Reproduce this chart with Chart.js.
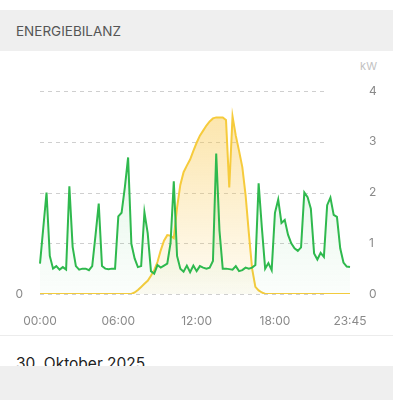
<!DOCTYPE html>
<html>
<head>
<meta charset="utf-8">
<script src="https://cdn.jsdelivr.net/npm/chart.js@4.4.0/dist/chart.umd.min.js"></script>
<style>
  body { margin: 0; width: 393px; height: 400px; background: #fff; font-family: Inter, "Noto Sans", sans-serif; overflow: hidden; position: relative; }
  .header { position: absolute; top: 10px; left: 0; width: 393px; height: 41px; background: #efefef; }
  .header span { position: absolute; left: 16px; top: 13px; font-size: 13.5px; color: #555; }
  .chart-box { position: absolute; top: 51px; left: 0; width: 393px; height: 284px; }
  .unit { position: absolute; top: 59px; right: 16px; font-size: 11px; color: #c2c2c2; }
  .divider { position: absolute; top: 335px; left: 0; width: 393px; height: 1px; background: #ececec; }
  .date { position: absolute; top: 354px; left: 16px; font-size: 15.5px; color: #222; }
  .footer { position: absolute; top: 366px; left: 0; width: 393px; height: 34px; background: #efefef; }
</style>
</head>
<body>
<div class="header"><span>ENERGIEBILANZ</span></div>
<div class="unit">kW</div>
<div class="chart-box"><canvas id="energyChart"></canvas></div>
<div class="divider"></div>
<div class="date">30. Oktober 2025</div>
<div class="footer"></div>

<script>
// 15-minute slots, 00:00 .. 23:45
const timeLabels = [];
for (let h = 0; h < 24; h++) {
    for (let m = 0; m < 60; m += 15) {
        timeLabels.push(String(h).padStart(2, '0') + ':' + String(m).padStart(2, '0'));
    }
}
const shownTicks = ['00:00', '06:00', '12:00', '18:00', '23:45'];
const yTicks = [0, 1, 2, 3, 4];

// Verbrauch (kW)
const consumption = [
    0.6, 1.3, 2.0, 0.75, 0.5, 0.55, 0.48, 0.53, 0.48, 2.12,
    0.93, 0.55, 0.48, 0.5, 0.5, 0.47, 0.55, 1.15, 1.78, 0.55,
    0.5, 0.49, 0.5, 0.5, 1.53, 1.6, 2.1, 2.69, 0.99, 0.7,
    0.53, 0.55, 1.61, 1.2, 0.45, 0.4, 0.57, 0.52, 0.56, 0.6,
    1.0, 2.22, 0.75, 0.5, 0.44, 0.56, 0.43, 0.56, 0.45, 0.55,
    0.52, 0.5, 0.52, 0.65, 2.77, 1.25, 0.5, 0.5, 0.49, 0.48,
    0.55, 0.45, 0.47, 0.52, 0.5, 0.52, 0.57, 2.18, 1.3, 0.5,
    0.61, 0.47, 1.6, 1.86, 1.4, 1.46, 1.17, 1.0, 0.9, 0.85,
    0.92, 2.0, 1.91, 1.68, 0.8, 0.68, 0.81, 0.73, 1.75, 1.9,
    1.56, 1.52, 0.9, 0.62, 0.54, 0.53
];

// PV-Erzeugung (kW)
const production = [
    0, 0, 0, 0, 0, 0, 0, 0, 0, 0,
    0, 0, 0, 0, 0, 0, 0, 0, 0, 0,
    0, 0, 0, 0, 0, 0, 0, 0, 0, 0.03,
    0.08, 0.14, 0.2, 0.26, 0.36, 0.47, 0.63, 0.86, 1.05, 1.16,
    1.15, 1.1, 1.7, 2.15, 2.4, 2.53, 2.65, 2.82, 2.98, 3.12,
    3.22, 3.32, 3.4, 3.46, 3.48, 3.48, 3.48, 3.43, 2.1, 3.5,
    3.12, 2.82, 2.5, 1.95, 1.2, 0.5, 0.14, 0.07, 0.03, 0,
    0, 0, 0, 0, 0, 0, 0, 0, 0, 0,
    0, 0, 0, 0, 0, 0, 0, 0, 0, 0,
    0, 0, 0, 0, 0, 0
];

function fadeFill(rgb, topAlpha, bottomAlpha) {
    return function (context) {
        const { ctx, chartArea } = context.chart;
        if (!chartArea) return null;
        const g = ctx.createLinearGradient(0, chartArea.top, 0, chartArea.bottom);
        g.addColorStop(0, 'rgba(' + rgb + ',' + topAlpha + ')');
        g.addColorStop(1, 'rgba(' + rgb + ',' + bottomAlpha + ')');
        return g;
    };
}

// dashed horizontal lines, they stop a bit before the right edge
const dashedGrid = {
    id: 'dashedGrid',
    beforeDatasetsDraw(chart) {
        const ctx = chart.ctx;
        const x = chart.scales.x;
        const y = chart.scales.y;
        const left = chart.chartArea.left;
        const right = x.getPixelForValue(88);
        ctx.save();
        ctx.strokeStyle = '#cfcfcf';
        ctx.lineWidth = 1;
        ctx.setLineDash([4, 4]);
        yTicks.forEach(v => {
            const py = Math.round(y.getPixelForValue(v)) + 0.5;
            ctx.beginPath();
            ctx.moveTo(left, py);
            ctx.lineTo(right, py);
            ctx.stroke();
        });
        ctx.restore();
    }
};

const tickFont = { family: 'Inter', size: 12 };

new Chart(document.getElementById('energyChart'), {
    type: 'line',
    data: {
        labels: timeLabels,
        datasets: [{
            label: 'Verbrauch',
            data: consumption,
            borderColor: '#2fb94e',
            borderWidth: 2,
            backgroundColor: fadeFill('47,185,78', 0.17, 0.02),
            fill: 'origin',
            pointRadius: 0,
            tension: 0
        }, {
            label: 'Erzeugung',
            data: production,
            borderColor: '#f6cb3c',
            borderWidth: 2,
            backgroundColor: fadeFill('248,198,72', 0.5, 0.06),
            fill: 'origin',
            pointRadius: 0,
            tension: 0
        }]
    },
    options: {
        responsive: true,
        maintainAspectRatio: false,
        animation: false,
        layout: { padding: { top: 40, left: 0, right: 0, bottom: 0 } },
        plugins: {
            legend: { display: false },
            tooltip: { enabled: false }
        },
        scales: {
            x: {
                grid: { display: false, drawTicks: false },
                border: { display: false },
                ticks: {
                    autoSkip: false,
                    maxRotation: 0,
                    padding: 20,
                    color: '#8a8a8a',
                    font: tickFont,
                    callback: function (val, idx) {
                        const t = timeLabels[idx];
                        return shownTicks.includes(t) ? t : null;
                    }
                },
                afterFit: function (scale) { scale.height = 41; }
            },
            y: {
                position: 'right',
                min: 0,
                max: 4,
                grid: { display: false, drawTicks: false },
                border: { display: false },
                ticks: { stepSize: 1, padding: 19, color: '#8a8a8a', font: tickFont },
                afterFit: function (scale) { scale.width = 43; }
            },
            yLeft: {
                position: 'left',
                min: 0,
                max: 4,
                grid: { display: false, drawTicks: false },
                border: { display: false },
                ticks: {
                    stepSize: 1,
                    padding: 17,
                    color: '#8a8a8a',
                    font: tickFont,
                    callback: v => (v === 0 ? '0' : '')
                },
                afterFit: function (scale) { scale.width = 40; }
            }
        }
    },
    plugins: [dashedGrid]
});
</script>
</body>
</html>
